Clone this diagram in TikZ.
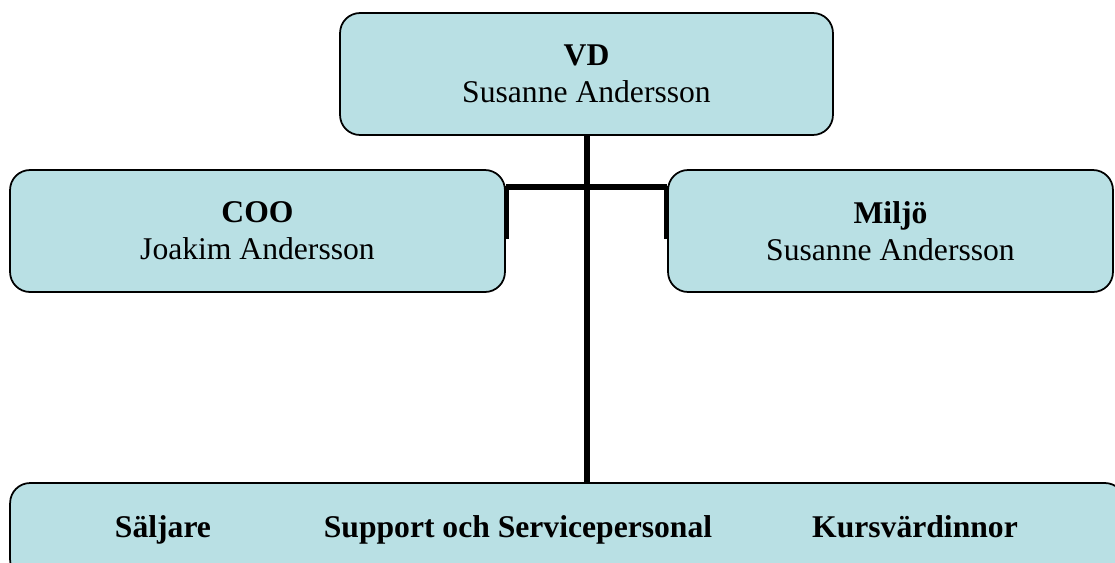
\documentclass[tikz,border=0pt]{standalone}
\usepackage{fontspec}
\setmainfont{Liberation Serif}
\usetikzlibrary{positioning}
\definecolor{boxfill}{RGB}{185,224,228}
\tikzset{
	orgbox/.style={draw, line width=1pt, rounded corners=0.4cm, fill=boxfill,
		align=center, inner sep=0pt, minimum height=2.44cm,
		font=\fontsize{18}{21}\selectfont},
	boxtext/.style={anchor=base, font=\fontsize{18}{21}\selectfont\bfseries},
	trunk/.style={line width=3.4pt},
	branch/.style={line width=3pt}
}

\begin{document}
\begin{tikzpicture}[x=0.02cm, y=-0.02cm]
		\useasboundingbox (0,0) rectangle (1115,562);
		\clip (0,0) rectangle (1115,562);
		%Ledning
		\node [orgbox, minimum width=9.86cm] (vd) at (586.5,74) {{\bfseries VD}\\Susanne Andersson};
		\node [orgbox, minimum width=9.9cm] (coo) at (257.5,231) {{\bfseries COO}\\Joakim Andersson};
		\node [orgbox, minimum width=8.9cm] (miljo) at (890.5,231) {{\bfseries Miljö}\\Susanne Andersson};
		%Personal
		\node [orgbox, minimum width=22.3cm, minimum height=1.94cm] (personal) at (567.5,531.5) {};
		\node [boxtext] (saljare) at (163,537) {Säljare};
		\node [boxtext] (support) at (518,537) {Support och Servicepersonal};
		\node [boxtext] (kurs) at (915,537) {Kursvärdinnor};
		%Linjer
		\coordinate (hub) at (587,187);
		\draw [trunk] (vd.south -| hub) -- (personal.north -| hub);
		\draw [branch] (coo.east |- hub) -- (miljo.west |- hub);
		\draw [branch] (coo.east |- hub) ++(1,-1.5) -- ++(0,53);
		\draw [branch] (miljo.west |- hub) ++(-1,-1.5) -- ++(0,53);
	\end{tikzpicture}
\end{document}
